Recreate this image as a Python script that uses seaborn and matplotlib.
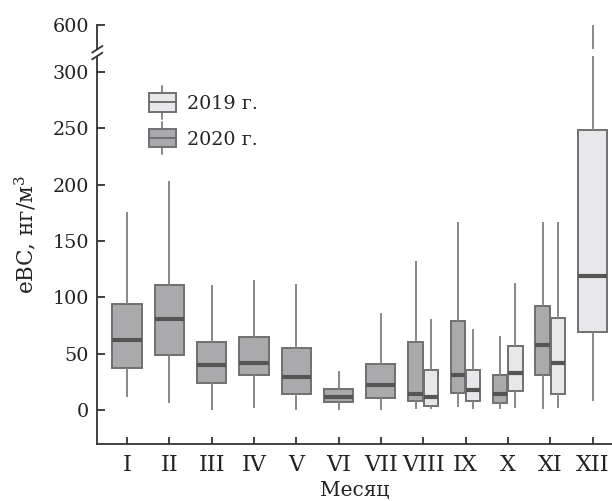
import numpy as np
import pandas as pd
import matplotlib
matplotlib.use('Agg')
import matplotlib.pyplot as plt
from matplotlib.patches import Rectangle, Patch
from matplotlib.lines import Line2D
from matplotlib.legend_handler import HandlerBase
import seaborn as sns

# Month labels
months = ['I', 'II', 'III', 'IV', 'V', 'VI', 'VII', 'VIII', 'IX', 'X', 'XI', 'XII']

# 2020: five-number summaries (min, Q1, median, Q3, max)
months_2020 = ['I', 'II', 'III', 'IV', 'V', 'VI', 'VII', 'VIII', 'IX', 'X', 'XI']
lo_2020 = [12, 6, 0.5, 1.5, 0.5, 0.5, 0.5, 1, 3, 1, 1]
q1_2020 = [37, 49, 24, 31, 14, 7, 11, 8, 15, 6, 31]
med_2020 = [62, 81, 40, 42, 29, 12, 22, 14, 31, 14, 58]
q3_2020 = [94, 111, 60, 65, 55, 18.5, 41, 60, 79, 31, 92]
hi_2020 = [176, 203, 111, 115, 112, 35, 86, 132, 167, 66, 167]

# 2019
months_2019 = ['VIII', 'IX', 'X', 'XI', 'XII']
lo_2019 = [1, 1, 2, 2, 8]
q1_2019 = [4, 8, 17, 14, 69]
med_2019 = [12, 18, 33, 42, 119]
q3_2019 = [36, 36, 57, 82, 248]
hi_2019 = [81, 72, 113, 167, 700]

years = ['2019 г.', '2020 г.']
paired = ['VIII', 'IX', 'X', 'XI']

rows = []
for yr, ms, cols in [('2020 г.', months_2020, (lo_2020, q1_2020, med_2020, q3_2020, hi_2020)),
                     ('2019 г.', months_2019, (lo_2019, q1_2019, med_2019, q3_2019, hi_2019))]:
    for i, m in enumerate(ms):
        for c in cols:
            rows.append({'month': m, 'year': yr, 'value': c[i]})
df = pd.DataFrame(rows)
df['paired'] = df['month'].isin(paired)

light = '#e8e8ea'
dark = '#a9a9ad'
palette = {'2019 г.': light, '2020 г.': dark}

sns.set_style('white')
plt.rcParams['font.family'] = ['DejaVu Serif']
plt.rcParams['mathtext.fontset'] = 'dejavuserif'

fig = plt.figure(figsize=(6.12, 5.01), dpi=100)
ax = fig.add_axes([0.159, 0.1138, 0.841, 0.8372])

common = dict(x='month', y='value', hue='year', order=months,
              palette=palette, whis=(0, 100), showcaps=False, showfliers=False,
              linecolor='#707070', linewidth=1.4, legend=False, ax=ax,
              medianprops=dict(color='#555555', linewidth=3),
              whiskerprops=dict(color='#888888', linewidth=1.4))
sns.boxplot(data=df[~df['paired']], dodge=False, width=0.69,
            hue_order=years, **common)
# 2020 on the left, 2019 on the right in the shared months
sns.boxplot(data=df[df['paired']], dodge=True, width=0.72, gap=0.06,
            hue_order=['2020 г.', '2019 г.'], **common)

# broken y axis: compress everything above 315
b, k = 315.0, 0.0944
def fwd(y):
    y = np.asarray(y, dtype=float)
    return np.where(y <= b, y, b + (y - b) * k)
def inv(t):
    t = np.asarray(t, dtype=float)
    return np.where(t <= b, t, b + (t - b) / k)
ax.set_yscale('function', functions=(fwd, inv))
ax.set_ylim(-30, 600)
ax.set_yticks([0, 50, 100, 150, 200, 250, 300, 600])
ax.set_yticklabels(['0', '50', '100', '150', '200', '250', '300', '600'])
ax.set_xlim(-0.7, 11.46)

for s in ['top', 'right']:
    ax.spines[s].set_visible(False)
for s in ['left', 'bottom']:
    ax.spines[s].set_color('#333333')
    ax.spines[s].set_linewidth(1.3)
ax.tick_params(axis='both', direction='in', width=1.3, color='#333333',
               labelcolor='#222222', left=True, bottom=True)
ax.tick_params(axis='y', length=6, labelsize=13.8, pad=6)
ax.tick_params(axis='x', length=5, labelsize=16, pad=7)

# break marks
ax.add_patch(Rectangle((-0.03, 0.925), 1.06, 0.016, transform=ax.transAxes,
                       facecolor='white', edgecolor='none', clip_on=False, zorder=10))
for yc in [0.925, 0.941]:
    ax.plot([-0.010, 0.010], [yc - 0.008, yc + 0.008], transform=ax.transAxes,
            color='#333333', lw=1.3, clip_on=False, zorder=11)

ax.set_xlabel('Месяц', fontsize=14.5, color='#222222', labelpad=4)
ax.set_ylabel('eBC, нг/м$^3$', fontsize=15.5, color='#222222', labelpad=10)


class BoxHandler(HandlerBase):
    def create_artists(self, legend, orig_handle, xdescent, ydescent, width, height,
                       fontsize, trans):
        x0, y0 = -xdescent, -ydescent
        h = height * 1.35
        yb = y0 + height / 2 - h / 2
        rect = Rectangle((x0, yb), width, h, facecolor=orig_handle.get_facecolor(),
                         edgecolor='#707070', lw=1.4, transform=trans)
        ym = y0 + height / 2
        med = Line2D([x0, x0 + width], [ym, ym], color='#707070', lw=1.4, transform=trans)
        xc = x0 + width / 2
        w1 = Line2D([xc, xc], [yb + h, yb + h + 5], color='#888888', lw=1.4, transform=trans)
        w2 = Line2D([xc, xc], [yb - 5, yb], color='#888888', lw=1.4, transform=trans)
        return [w1, w2, rect, med]


handles = [Patch(facecolor=palette[y]) for y in years]
ax.legend(handles, years, handler_map={Patch: BoxHandler()}, loc='upper left',
          bbox_to_anchor=(0.066, 0.873), frameon=False, fontsize=13.8,
          handlelength=1.45, handleheight=0.75, handletextpad=0.55, labelspacing=0.92)

fig.savefig('out.png', dpi=100)
